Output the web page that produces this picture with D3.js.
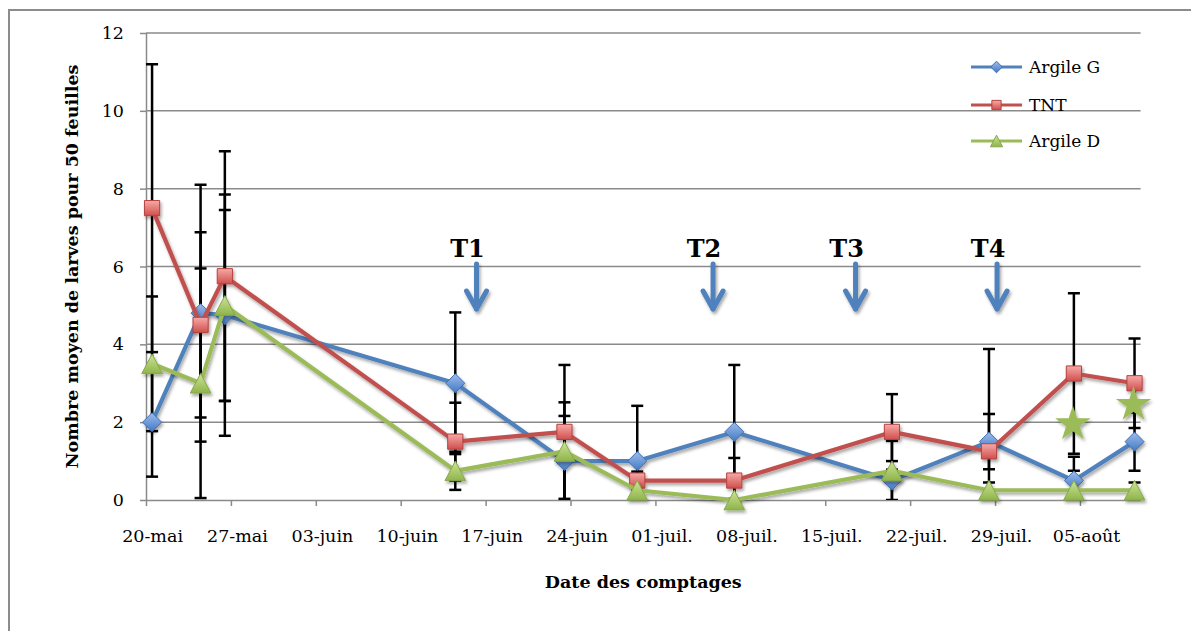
<!DOCTYPE html>
<html lang="fr">
<head>
<meta charset="utf-8">
<script src="https://cdn.jsdelivr.net/npm/d3@7"></script>
<style>
  html, body { margin: 0; padding: 0; background: #fff; }
  svg { display: block; }
  text { font-family: "DejaVu Serif", "Liberation Serif", serif; fill: #000; }
</style>
</head>
<body>
<svg id="chart" width="1191" height="631"></svg>
<script>
// Sampling dates (one count per date)
const sampleDates = ["2013-05-20", "2013-05-24", "2013-05-26", "2013-06-14", "2013-06-23",
  "2013-06-29", "2013-07-07", "2013-07-20", "2013-07-28", "2013-08-04", "2013-08-09"];

// Mean number of larvae per 50 leaves and error bar half-widths
const argileG    = [2.0, 4.8, 4.75, 3.0, 1.0, 1.0, 1.75, 0.5, 1.5, 0.5, 1.5];
const argileGErr = [1.4, 3.3, 3.1, 1.82, 1.16, 1.42, 1.72, 0.5, 0.71, 0.61, 0.75];
const tnt        = [7.5, 4.5, 5.75, 1.5, 1.75, 0.5, 0.5, 1.75, 1.25, 3.25, 3.0];
const tntErr     = [3.7, 2.38, 3.21, 1.0, 1.72, 0.23, 0.58, 0.97, 2.63, 2.06, 1.15];
const argileD    = [3.5, 3.0, 5.0, 0.75, 1.25, 0.25, 0, 0.75, 0.25, 0.25, 0.25];
const argileDErr = [1.73, 2.95, 2.45, 0.49, 1.26, 0.2, 0, 0.77, 0.2, 0.5, 0.2];

// Significant differences (stars)
const starDates  = ["2013-08-04", "2013-08-09"];
const starValues = [1.95, 2.45];

// Treatments
const treatLabels = ["T1", "T2", "T3", "T4"];
const treatDates  = ["2013-06-16T06:00Z", "2013-07-05T18:00Z", "2013-07-17T12:00Z", "2013-07-29T04:00Z"];

// Axis ticks
const yTicks = [0, 2, 4, 6, 8, 10, 12];
const xTickLabels = ["20-mai", "27-mai", "03-juin", "10-juin", "17-juin", "24-juin",
  "01-juil.", "08-juil.", "15-juil.", "22-juil.", "29-juil.", "05-août"];
const xStart = "2013-05-20", xEnd = "2013-08-10";

const seriesNames = ["Argile G", "TNT", "Argile D"];

(function () {
  const DAY = 864e5;
  const mid = s => new Date(Date.parse(s) + DAY / 2);

  const svg = d3.select("#chart");
  const pLeft = 146, pRight = 1140.6, pTop = 33, pBottom = 500;

  const x = d3.scaleUtc().domain([new Date(xStart), new Date(xEnd)]).range([pLeft, pRight]);
  const y = d3.scaleLinear().domain([0, 12]).range([pBottom, pTop]);

  // ---- defs: shadow, marker gradients, clip ----
  const defs = svg.append("defs");
  const sh = defs.append("filter").attr("id", "shadow")
    .attr("x", "-30%").attr("y", "-30%").attr("width", "160%").attr("height", "160%");
  sh.append("feDropShadow").attr("dx", 1.5).attr("dy", 2.5).attr("stdDeviation", 1.8)
    .attr("flood-color", "#000").attr("flood-opacity", 0.35);

  function grad(id, c0, c1) {
    const g = defs.append("linearGradient").attr("id", id)
      .attr("x1", 0).attr("y1", 0).attr("x2", 0).attr("y2", 1);
    g.append("stop").attr("offset", "0%").attr("stop-color", c0);
    g.append("stop").attr("offset", "100%").attr("stop-color", c1);
  }
  grad("gBlue", "#9dbdec", "#4479c4");
  grad("gRed", "#f6aaa8", "#d04f4c");
  grad("gGreen", "#cde497", "#8fb44b");

  defs.append("clipPath").attr("id", "plotClip").append("rect")
    .attr("x", pLeft - 20).attr("y", pTop - 10)
    .attr("width", pRight - pLeft + 40).attr("height", pBottom - pTop + 10);

  // ---- outer frame ----
  svg.append("path").attr("d", "M9,640V10H1200")
    .attr("fill", "none").attr("stroke", "#8c8c8c").attr("stroke-width", 2);

  // ---- gridlines ----
  svg.append("g").selectAll("line").data(yTicks.filter(v => v > 0)).join("line")
    .attr("x1", pLeft).attr("x2", pRight)
    .attr("y1", d => y(d)).attr("y2", d => y(d))
    .attr("stroke", "#8a8a8a").attr("stroke-width", 1.5);

  // ---- axes ----
  const tickDates = xTickLabels.map((_, i) => new Date(Date.parse(xStart) + i * 7 * DAY));
  const halfDay = x(new Date(Date.parse(xStart) + DAY / 2)) - x(new Date(xStart));

  const gx = svg.append("g").attr("transform", `translate(0,${pBottom})`)
    .call(d3.axisBottom(x).tickValues(tickDates).tickFormat((d, i) => xTickLabels[i])
      .tickSize(6).tickSizeOuter(0).tickPadding(24));
  gx.select(".domain").attr("d", `M${pLeft},0.5H${pRight}`).attr("stroke", "#8a8a8a").attr("stroke-width", 1.5);
  gx.selectAll(".tick line").attr("stroke", "#8a8a8a").attr("stroke-width", 1.5);
  gx.selectAll(".tick text").attr("x", halfDay)
    .style("font-family", "DejaVu Serif").style("font-size", "17.5px").attr("fill", "#000");

  const gy = svg.append("g").attr("transform", `translate(${pLeft},0)`)
    .call(d3.axisLeft(y).tickValues(yTicks).tickSize(6).tickSizeOuter(0).tickPadding(16));
  gy.select(".domain").attr("d", `M0.5,${pBottom}V${pTop}`).attr("stroke", "#8a8a8a").attr("stroke-width", 1.5);
  gy.selectAll(".tick line").attr("stroke", "#8a8a8a").attr("stroke-width", 1.5);
  gy.selectAll(".tick text").style("font-family", "DejaVu Serif").style("font-size", "17.5px").attr("fill", "#000");

  // ---- axis titles ----
  svg.append("text").attr("transform", `translate(78,${(pTop + pBottom) / 2}) rotate(-90)`)
    .attr("text-anchor", "middle").style("font-weight", "bold").style("font-size", "17.5px")
    .text("Nombre moyen de larves pour 50 feuilles");
  svg.append("text").attr("x", (pLeft + pRight) / 2).attr("y", 588)
    .attr("text-anchor", "middle").style("font-weight", "bold").style("font-size", "17.5px")
    .text("Date des comptages");

  // ---- series ----
  const series = [
    { name: seriesNames[0], values: argileG, err: argileGErr, color: "#4f81bd", fill: "url(#gBlue)", stroke: "#3d6fb3", shape: "diamond" },
    { name: seriesNames[1], values: tnt, err: tntErr, color: "#c0504d", fill: "url(#gRed)", stroke: "#b5423f", shape: "square" },
    { name: seriesNames[2], values: argileD, err: argileDErr, color: "#9bbb59", fill: "url(#gGreen)", stroke: "#87a948", shape: "triangle" }
  ];
  series.forEach(s => {
    s.points = sampleDates.map((d, i) => ({ date: mid(d), v: s.values[i], e: s.err[i] }));
  });

  // error bars
  const eb = svg.append("g").attr("clip-path", "url(#plotClip)");
  series.forEach(s => {
    s.points.filter(p => p.e > 0).forEach(p => {
      const cx = x(p.date);
      const lo = p.v - p.e, hi = p.v + p.e;
      eb.append("line").attr("x1", cx).attr("x2", cx)
        .attr("y1", y(hi)).attr("y2", y(Math.max(lo, 0)))
        .attr("stroke", "#000").attr("stroke-width", 2.5);
      [hi, lo].filter(v => v >= 0).forEach(v => {
        eb.append("line").attr("x1", cx - 6).attr("x2", cx + 6)
          .attr("y1", y(v)).attr("y2", y(v))
          .attr("stroke", "#000").attr("stroke-width", 2.5);
      });
    });
  });

  function markerPath(shape, r) {
    if (shape === "diamond") return `M0,${-r}L${r},0L0,${r}L${-r},0Z`;
    if (shape === "square") { const h = r * 0.8; return `M${-h},${-h}H${h}V${h}H${-h}Z`; }
    const w = r * 1.05, h = r;
    return `M0,${-h}L${w},${h}L${-w},${h}Z`;
  }

  const line = d3.line().x(p => x(p.date)).y(p => y(p.v));
  series.forEach(s => {
    const g = svg.append("g").attr("filter", "url(#shadow)");
    g.append("path").datum(s.points).attr("d", line)
      .attr("fill", "none").attr("stroke", s.color).attr("stroke-width", 4.2)
      .attr("stroke-linejoin", "round");
    g.selectAll("path.m").data(s.points).join("path").attr("class", "m")
      .attr("transform", p => `translate(${x(p.date)},${y(p.v)})`)
      .attr("d", markerPath(s.shape, s.shape === "triangle" ? 9.8 : 9.5))
      .attr("fill", s.fill).attr("stroke", s.stroke).attr("stroke-width", 1);
  });

  // ---- stars ----
  svg.append("g").attr("filter", "url(#shadow)").selectAll("path")
    .data(starDates.map((d, i) => ({ date: mid(d), v: starValues[i] }))).join("path")
    .attr("transform", p => `translate(${x(p.date) - 1},${y(p.v)})`)
    .attr("d", d3.symbol(d3.symbolStar, 390))
    .attr("fill", "#9bbb59");

  // ---- treatment arrows ----
  const arrows = svg.append("g");
  treatDates.forEach((d, i) => {
    const ax = x(new Date(d));
    arrows.append("text").attr("x", ax - 9).attr("y", 257).attr("text-anchor", "middle")
      .style("font-weight", "bold").style("font-size", "24px").text(treatLabels[i]);
    const g = arrows.append("g").attr("filter", "url(#shadow)")
      .attr("fill", "none").attr("stroke", "#4f81bd").attr("stroke-width", 5)
      .attr("stroke-linecap", "round").attr("stroke-linejoin", "round");
    g.append("path").attr("d", `M${ax},264V309`);
    g.append("path").attr("d", `M${ax - 10},291L${ax},309L${ax + 10},291`);
  });

  // ---- legend ----
  const legend = svg.append("g");
  const legendY = [67, 105, 141];
  series.forEach((s, i) => {
    const g = legend.append("g").attr("transform", `translate(0,${legendY[i]})`);
    g.append("line").attr("x1", 971).attr("x2", 1022).attr("y1", 0).attr("y2", 0)
      .attr("stroke", s.color).attr("stroke-width", 2.8);
    g.append("path").attr("transform", "translate(996.5,0)")
      .attr("d", markerPath(s.shape, 5.8))
      .attr("fill", s.fill).attr("stroke", s.stroke).attr("stroke-width", 1);
    g.append("text").attr("x", 1029).attr("y", 0).attr("dy", "0.36em")
      .style("font-size", "17px").text(s.name);
  });
})();
</script>
</body>
</html>
